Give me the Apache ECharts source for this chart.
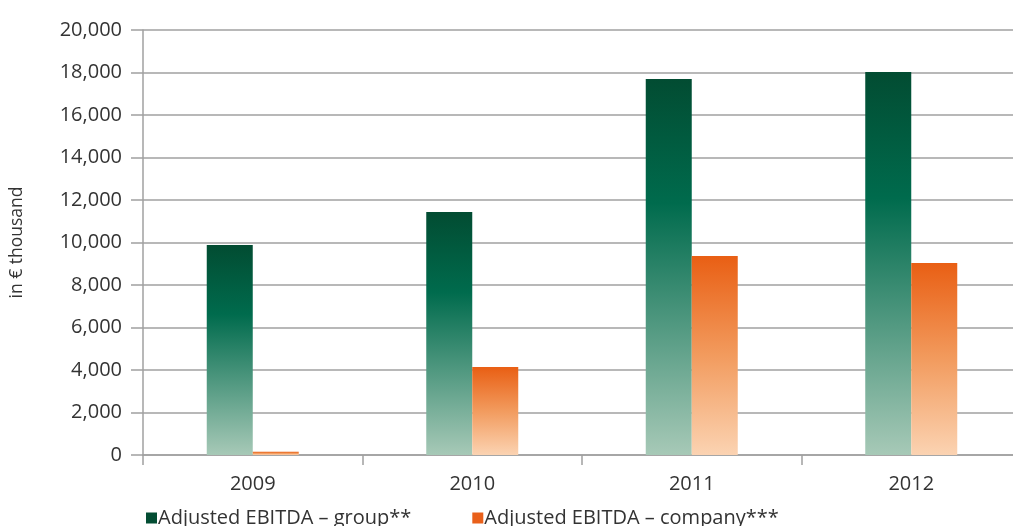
<!DOCTYPE html>
<html>
<head>
<meta charset="utf-8">
<script src="https://cdn.jsdelivr.net/npm/echarts@6/dist/echarts.min.js"></script>
<style>
  html, body { margin: 0; padding: 0; background: #fff; }
  #chart { width: 1013px; height: 526px; }
</style>
</head>
<body>
<div id="chart"></div>
<script>
const years = ['2009', '2010', '2011', '2012'];
const groupValues = [9880, 11430, 17690, 18020];
const companyValues = [150, 4140, 9360, 9040];
const seriesNames = ['Adjusted EBITDA \u2013 group**', 'Adjusted EBITDA \u2013 company***'];

const chart = echarts.init(document.getElementById('chart'), null, { renderer: 'canvas' });

const greenFill = new echarts.graphic.LinearGradient(0, 0, 0, 1, [
  { offset: 0, color: '#024C32' },
  { offset: 0.33, color: '#006B4D' },
  { offset: 1, color: '#A7C9B7' }
]);
const orangeFill = new echarts.graphic.LinearGradient(0, 0, 0, 1, [
  { offset: 0, color: '#E95F14' },
  { offset: 0.5, color: '#F29B5E' },
  { offset: 1, color: '#FBD3B2' }
]);

chart.setOption({
  animation: false,
  textStyle: { fontFamily: 'Open Sans', color: '#333' },
  // the plot runs a little past the right edge of the picture
  grid: { left: 143, width: 878, top: 30, height: 425, outerBoundsMode: 'none', containLabel: false },
  legend: {
    data: [
      { name: seriesNames[0], itemStyle: { color: '#034D33' } },
      { name: seriesNames[1], itemStyle: { color: '#E9601A' } }
    ],
    left: 141,
    top: 503,
    icon: 'rect',
    itemWidth: 11,
    itemHeight: 11,
    itemGap: 61,
    textStyle: { fontSize: 20, color: '#333', padding: [0, 0, 0, -4] }
  },
  xAxis: {
    type: 'category',
    data: years,
    axisLine: { lineStyle: { color: '#A0A0A0', width: 1.5 } },
    axisTick: { show: true, length: 10, lineStyle: { color: '#A0A0A0', width: 1.5 } },
    axisLabel: { fontSize: 20, color: '#333', margin: 19 }
  },
  yAxis: {
    type: 'value',
    min: 0,
    max: 20000,
    interval: 2000,
    name: 'in \u20ac thousand',
    nameLocation: 'middle',
    nameGap: 117,
    nameRotate: 90,
    nameTextStyle: { fontSize: 17.5, color: '#333' },
    axisLine: { show: true, lineStyle: { color: '#A0A0A0', width: 1.5 } },
    axisTick: { show: true, length: 12, lineStyle: { color: '#A0A0A0', width: 1.5 } },
    axisLabel: {
      fontSize: 20,
      color: '#333',
      margin: 21,
      formatter: v => v.toLocaleString('en-US')
    },
    splitLine: { lineStyle: { color: '#A0A0A0', width: 1.5 } }
  },
  series: [
    {
      name: seriesNames[0],
      type: 'bar',
      data: groupValues,
      barWidth: 46,
      barGap: '0%',
      itemStyle: { color: greenFill }
    },
    {
      name: seriesNames[1],
      type: 'bar',
      data: companyValues,
      barWidth: 46,
      barGap: '0%',
      itemStyle: { color: orangeFill }
    }
  ]
});
</script>
</body>
</html>
